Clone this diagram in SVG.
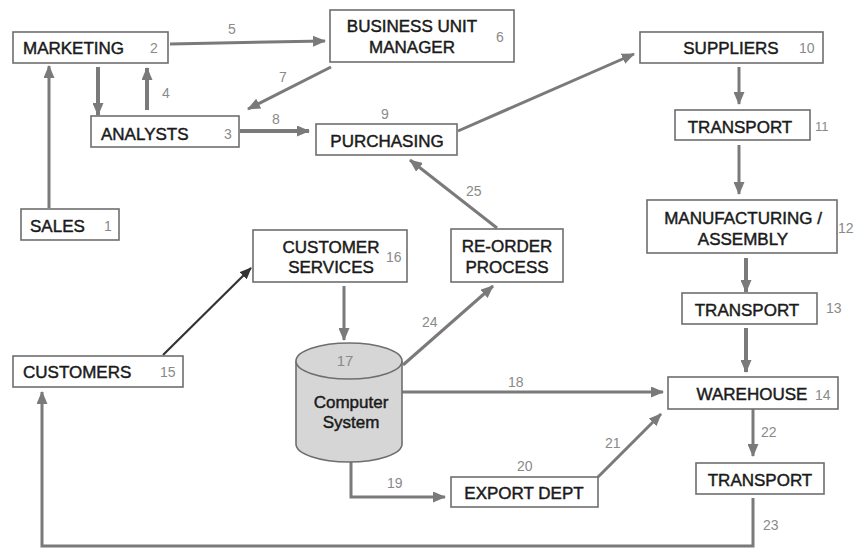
<svg xmlns="http://www.w3.org/2000/svg" width="854" height="548" viewBox="0 0 854 548">
<style>
.box{fill:#fff;stroke:#6e6e6e;stroke-width:1.6}
.t{font-family:"Liberation Sans",Arial,sans-serif;font-size:17px;fill:#1a1a1a;stroke:#1a1a1a;stroke-width:0.45}
.tc{text-anchor:middle}
.n{font-family:"Liberation Sans",Arial,sans-serif;font-size:14px;fill:#8a8a8a}
.c{fill:none;stroke:#7a7a7a;stroke-width:3}
.ck{stroke-width:4}
.cd{fill:none;stroke:#333;stroke-width:2.2}
</style>
<defs>
<marker id="a" markerUnits="userSpaceOnUse" markerWidth="13" markerHeight="11" refX="12" refY="5.5" orient="auto"><path d="M0,0 L13,5.5 L0,11 z" fill="#7a7a7a"/></marker>
<marker id="ad" markerUnits="userSpaceOnUse" markerWidth="12" markerHeight="10" refX="11" refY="5" orient="auto"><path d="M0,0 L12,5 L0,10 z" fill="#333"/></marker>
</defs>
<rect width="854" height="548" fill="#fff"/>
<g id="connectors">
<line class="c" x1="49" y1="208" x2="49" y2="66" marker-end="url(#a)"/>
<line class="c ck" x1="98" y1="67" x2="98" y2="115" marker-end="url(#a)"/>
<line class="c ck" x1="147" y1="110" x2="147" y2="68" marker-end="url(#a)"/>
<line class="c" x1="170" y1="44" x2="325" y2="41" marker-end="url(#a)"/>
<line class="c" x1="331" y1="67" x2="248" y2="109" marker-end="url(#a)"/>
<line class="c ck" x1="240" y1="131" x2="309" y2="131" marker-end="url(#a)"/>
<line class="c" x1="458" y1="131" x2="634" y2="54" marker-end="url(#a)"/>
<line class="c" x1="739" y1="67" x2="739" y2="104" marker-end="url(#a)"/>
<line class="c" x1="739" y1="145" x2="739" y2="194" marker-end="url(#a)"/>
<line class="c ck" x1="746" y1="258" x2="746" y2="292" marker-end="url(#a)"/>
<line class="c ck" x1="746" y1="328" x2="746" y2="372" marker-end="url(#a)"/>
<line class="c" x1="753" y1="409" x2="753" y2="456" marker-end="url(#a)"/>
<polyline class="c" points="753,498 753,546 42,546 42,392" marker-end="url(#a)"/>
<line class="cd" x1="163" y1="355" x2="251" y2="268" marker-end="url(#ad)"/>
<line class="c" x1="344" y1="286" x2="344" y2="340" marker-end="url(#a)"/>
<line class="c" x1="403" y1="365" x2="493" y2="286" marker-end="url(#a)"/>
<line class="c" x1="497" y1="228" x2="410" y2="160" marker-end="url(#a)"/>
<line class="c" x1="402" y1="392" x2="663" y2="392" marker-end="url(#a)"/>
<polyline class="c" points="351,462 351,497 445,497" marker-end="url(#a)"/>
<line class="c" x1="598" y1="477" x2="661" y2="414" marker-end="url(#a)"/>
<text class="n" x="228" y="34">5</text>
<text class="n" x="162" y="98">4</text>
<text class="n" x="279" y="82">7</text>
<text class="n" x="272" y="124">8</text>
<text class="n" x="381" y="119">9</text>
<text class="n" x="466" y="196">25</text>
<text class="n" x="422" y="327">24</text>
<text class="n" x="508" y="387">18</text>
<text class="n" x="387" y="488">19</text>
<text class="n" x="517" y="471">20</text>
<text class="n" x="605" y="448">21</text>
<text class="n" x="761" y="437">22</text>
<text class="n" x="763" y="530">23</text>
</g>
<g id="sales"><rect class="box" x="21" y="209" width="98" height="31"/><text class="t" x="30" y="232">SALES</text><text class="n" x="104" y="231">1</text></g>
<g id="marketing"><rect class="box" x="13" y="32" width="155" height="31"/><text class="t" x="23" y="54">MARKETING</text><text class="n" x="150" y="53">2</text></g>
<g id="analysts"><rect class="box" x="91" y="116" width="148" height="31"/><text class="t" x="101" y="140">ANALYSTS</text><text class="n" x="224" y="139">3</text></g>
<g id="bum"><rect class="box" x="330" y="10" width="184" height="52"/><text class="t tc" x="412" y="32">BUSINESS UNIT</text><text class="t tc" x="412" y="53">MANAGER</text><text class="n" x="496" y="42">6</text></g>
<g id="purchasing"><rect class="box" x="316" y="124" width="141" height="31"/><text class="t tc" x="387" y="147">PURCHASING</text></g>
<g id="suppliers"><rect class="box" x="640" y="32" width="183" height="31"/><text class="t tc" x="731" y="54">SUPPLIERS</text><text class="n" x="799" y="53">10</text></g>
<g id="transport11"><rect class="box" x="675" y="110" width="135" height="30"/><text class="t tc" x="740" y="133">TRANSPORT</text><text class="n" x="815" y="131" style="font-size:13px">11</text></g>
<g id="manufacturing"><rect class="box" x="647" y="200" width="190" height="53"/><text class="t tc" x="743" y="224">MANUFACTURING /</text><text class="t tc" x="743" y="245">ASSEMBLY</text><text class="n" x="838" y="233">12</text></g>
<g id="transport13"><rect class="box" x="682" y="293" width="135" height="31"/><text class="t tc" x="747" y="316">TRANSPORT</text><text class="n" x="826" y="313">13</text></g>
<g id="warehouse"><rect class="box" x="668" y="377" width="170" height="32"/><text class="t tc" x="752" y="400">WAREHOUSE</text><text class="n" x="815" y="400">14</text></g>
<g id="transport23"><rect class="box" x="696" y="463" width="128" height="31"/><text class="t tc" x="760" y="486">TRANSPORT</text></g>
<g id="customers"><rect class="box" x="13" y="356" width="170" height="31"/><text class="t" x="23" y="378">CUSTOMERS</text><text class="n" x="160" y="377">15</text></g>
<g id="customerservices"><rect class="box" x="253" y="230" width="154" height="52"/><text class="t tc" x="331" y="253">CUSTOMER</text><text class="t tc" x="331" y="273">SERVICES</text><text class="n" x="386" y="262">16</text></g>
<g id="reorder"><rect class="box" x="451" y="229" width="112" height="53"/><text class="t tc" x="507" y="252">RE-ORDER</text><text class="t tc" x="507" y="273">PROCESS</text></g>
<g id="computer">
<path d="M296,361 L296,444 A53,18 0 0 0 402,444 L402,361" fill="#d6d6d6" stroke="#6e6e6e" stroke-width="1.6"/>
<ellipse cx="349" cy="361" rx="53" ry="18" fill="#d6d6d6" stroke="#6e6e6e" stroke-width="1.6"/>
<text class="n tc" x="345" y="366" style="font-size:15px">17</text>
<text class="t tc" x="351" y="408">Computer</text>
<text class="t tc" x="351" y="428">System</text>
</g>
<g id="export"><rect class="box" x="451" y="477" width="147" height="30"/><text class="t tc" x="524" y="499">EXPORT DEPT</text></g>
</svg>
